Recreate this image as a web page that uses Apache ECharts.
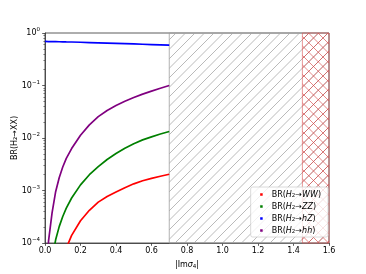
<!DOCTYPE html>
<html><head><meta charset="utf-8">
<script src="https://cdn.jsdelivr.net/npm/echarts@6/dist/echarts.min.js"></script>
<style>html,body{margin:0;padding:0;background:#fff}#c{width:366px;height:274px}</style>
</head><body><div id="c"></div>
<script>
const xs = [0, 0.01, 0.02, 0.04, 0.06, 0.08, 0.1, 0.12, 0.15, 0.2, 0.25, 0.3, 0.35, 0.4, 0.45, 0.5, 0.55, 0.6, 0.65, 0.7];
const brWW = [1e-8, 5e-7, 2.5e-6, 9e-6, 2e-5, 3.4e-5, 5e-5, 8e-5, 1.4e-4, 2.65e-4, 4.2e-4, 6.0e-4, 7.7e-4, 9.4e-4, 1.13e-3, 1.34e-3, 1.53e-3, 1.70e-3, 1.87e-3, 2.04e-3];
const brZZ = [1e-8, 3e-6, 1.3e-5, 5.1e-5, 1.15e-4, 2.05e-4, 3.2e-4, 4.6e-4, 7.2e-4, 1.28e-3, 2.0e-3, 2.85e-3, 3.9e-3, 5.05e-3, 6.4e-3, 7.8e-3, 9.2e-3, 0.0105, 0.0119, 0.0133];
const brhZ = [0.690, 0.689, 0.688, 0.686, 0.684, 0.682, 0.680, 0.677, 0.674, 0.666, 0.658, 0.650, 0.642, 0.634, 0.626, 0.618, 0.610, 0.602, 0.594, 0.586];
const brhh = [1e-8, 2.5e-5, 1.1e-4, 3.8e-4, 9.5e-4, 1.75e-3, 2.8e-3, 4.1e-3, 6.3e-3, 0.0113, 0.0178, 0.0255, 0.0335, 0.0415, 0.0500, 0.0590, 0.0685, 0.0780, 0.0885, 0.1000];
const seriesNames = ['WW', 'ZZ', 'hZ', 'hh'];
const seriesColors = ['#ff0000', '#008000', '#0000ff', '#800080'];
const excludedRange = [0.7, 1.6];
const excludedRange2 = [1.45, 1.6];
const yMinorTicks = [];
for (let e = -4; e < 0; e++) for (let m = 2; m <= 9; m++) yMinorTicks.push(m * Math.pow(10, e));

function hatch(color, cross, S) {
  const c = document.createElement('canvas'); c.width = S; c.height = S;
  const g = c.getContext('2d'); g.strokeStyle = color; g.lineWidth = 0.8;
  g.beginPath();
  const h = S / 2;
  for (const k of [-h, 0, h, S, S + h, 2 * S]) { g.moveTo(k, 0); g.lineTo(k - S, S); }
  if (cross) for (const k of [-2 * S, -S - h, -S, -h, 0, h, S]) { g.moveTo(k, 0); g.lineTo(k + S, S); }
  g.stroke();
  return c;
}
const FONT = 'DejaVu Sans';
const supFmt = v => {
  const e = Math.round(Math.log10(v));
  return '{b|10}{s|' + (e < 0 ? '\u2212' + (-e) : e) + '}';
};
const chart = echarts.init(document.getElementById('c'));
const mk = (arr) => xs.map((x, i) => [x, arr[i]]);
const dataArr = [brWW, brZZ, brhZ, brhh];
const series = seriesNames.map((n, i) => ({
  name: n, type: 'line', data: mk(dataArr[i]), showSymbol: false, symbol: 'rect', symbolSize: 3,
  lineStyle: { color: seriesColors[i], width: 1.7 }, itemStyle: { color: seriesColors[i] },
  clip: true, z: 5
}));
series.push({
  type: 'line', data: [], silent: true, z: 1,
  markArea: { silent: true, itemStyle: { color: { image: hatch('#a8a8a8', false, 19), repeat: 'repeat' }, borderColor: '#a0a0a0', borderWidth: 0.8 },
    data: [[{ xAxis: excludedRange[0] }, { xAxis: excludedRange[1] }]] }
});
series.push({
  type: 'line', data: [], silent: true, z: 2,
  markArea: { silent: true, itemStyle: { color: { image: hatch('rgba(215,70,70,0.8)', true, 19), repeat: 'repeat' }, borderColor: 'rgba(220,90,90,0.8)', borderWidth: 0.8 },
    data: [[{ xAxis: excludedRange2[0] }, { xAxis: excludedRange2[1] }]] }
});
chart.setOption({
  animation: false,
  grid: { left: 45, top: 33, width: 284, height: 210, containLabel: false, outerBoundsMode: 'none', show: true, borderColor: '#333', borderWidth: 0.8, backgroundColor: 'transparent' },
  xAxis: {
    type: 'value', min: 0, max: 1.6, interval: 0.2,
    name: '|Im{i|σ}{s|4}|', nameLocation: 'middle', nameGap: 16, nameMoveOverlap: false,
    nameTextStyle: { fontFamily: FONT, fontSize: 8, color: '#000', rich: { i: { fontStyle: 'italic', fontSize: 8, fontFamily: FONT }, s: { fontSize: 5.5, fontFamily: FONT, verticalAlign: 'bottom', padding: [5, 0, 0, 0] } } },
    axisLine: { lineStyle: { color: '#333', width: 0.8 } },
    axisTick: { length: 2.8, lineStyle: { color: '#333', width: 0.8 } },
    axisLabel: { fontFamily: FONT, fontSize: 8, color: '#000', margin: 4, formatter: v => v.toFixed(1) },
    splitLine: { show: false }
  },
  yAxis: [{
    type: 'log', min: 1e-4, max: 1, logBase: 10,
    name: 'BR(H\u2082\u2192XX)', nameLocation: 'middle', nameGap: 26, nameMoveOverlap: false,
    nameTextStyle: { fontFamily: FONT, fontSize: 8, color: '#000' },
    axisLine: { show: true, lineStyle: { color: '#333', width: 0.8 } },
    axisTick: { length: 2.8, lineStyle: { color: '#333', width: 0.8 } },
    axisLabel: { fontFamily: FONT, fontSize: 8, color: '#000', margin: 5, formatter: supFmt,
      rich: { b: { fontSize: 8, fontFamily: FONT, color: '#000' }, s: { fontSize: 5.5, fontFamily: FONT, color: '#000', verticalAlign: 'top', padding: [0, 0, 6, 0] } } },
    splitLine: { show: false }, minorTick: { show: false }
  }, {
    type: 'log', min: 1e-4, max: 1, logBase: 10, position: 'right', offset: -284,
    axisLine: { show: false }, axisLabel: { show: false }, splitLine: { show: false },
    axisTick: { show: true, inside: true, length: 1.6, customValues: yMinorTicks, lineStyle: { color: '#333', width: 0.6 } }
  }],
  legend: {
    orient: 'vertical', right: 38, bottom: 37, itemWidth: 2.5, itemHeight: 2.5, itemGap: 2, icon: 'rect',
    data: seriesNames, backgroundColor: 'rgba(255,255,255,0.8)', borderColor: '#d0d0d0', borderWidth: 0.8, borderRadius: 2,
    padding: [2, 7, 2, 9.5],
    formatter: n => 'BR({i|H}{s|2}\u2192{i|' + n + '})',
    textStyle: { fontFamily: FONT, fontSize: 8, color: '#000', padding: [0, 0, 0, 4], lineHeight: 9,
      rich: { i: { fontStyle: 'italic', fontSize: 8, fontFamily: FONT, lineHeight: 9 }, s: { fontSize: 5.5, fontFamily: FONT, verticalAlign: 'bottom', lineHeight: 9, padding: [4, 0, 0, 0] } } }
  },
  series: series
});
</script></body></html>
